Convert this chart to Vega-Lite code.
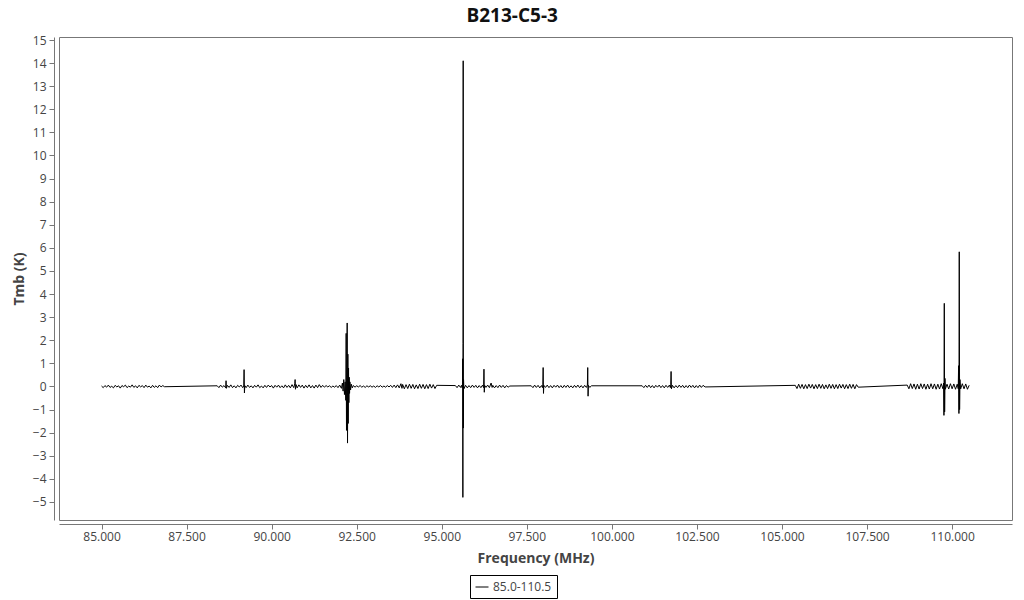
{
 "$schema": "https://vega.github.io/schema/vega-lite/v6.json",
 "width": 953,
 "height": 483,
 "autosize": {"type": "none"},
 "padding": {"left": 59, "top": 37, "right": 12, "bottom": 80},
 "background": "white",
 "title": {"text": "B213-C5-3", "font": "Open Sans", "fontSize": 19, "fontWeight": "bold", "color": "#111111", "anchor": "middle", "frame": "bounds", "offset": 8},
 "config": {
  "view": {"stroke": "#777777", "strokeWidth": 1},
  "axis": {"grid": false, "domainColor": "#777777", "tickColor": "#777777", "tickSize": 5, "labelFont": "Open Sans", "labelFontSize": 12, "labelColor": "#444444", "titleFont": "Open Sans", "titleFontSize": 14, "titleFontWeight": "bold", "titleColor": "#444444"}
 },
 "data": {"values": [
  {"f": 85.00, "t": 0.02}, {"f": 85.05, "t": -0.05}, {"f": 85.10, "t": 0.04}, {"f": 85.15, "t": -0.03}, {"f": 85.20, "t": 0.06}, {"f": 85.25, "t": -0.04}, {"f": 85.30, "t": 0.01}, {"f": 85.35, "t": -0.06}, {"f": 85.40, "t": 0.05}, {"f": 85.45, "t": -0.02}, {"f": 85.50, "t": 0.03}, {"f": 85.55, "t": -0.07}, {"f": 85.60, "t": 0.04}, {"f": 85.65, "t": -0.01}, {"f": 85.70, "t": 0.06}, {"f": 85.75, "t": -0.05}, {"f": 85.80, "t": 0.02}, {"f": 85.85, "t": -0.03}, {"f": 85.90, "t": 0.07}, {"f": 85.95, "t": -0.04}, {"f": 86.00, "t": 0.03}, {"f": 86.05, "t": -0.06}, {"f": 86.10, "t": 0.05}, {"f": 86.15, "t": -0.02}, {"f": 86.20, "t": 0.04}, {"f": 86.25, "t": -0.05}, {"f": 86.30, "t": 0.06}, {"f": 86.35, "t": -0.03}, {"f": 86.40, "t": 0.02}, {"f": 86.45, "t": -0.06}, {"f": 86.50, "t": 0.05}, {"f": 86.55, "t": -0.04}, {"f": 86.60, "t": 0.03}, {"f": 86.65, "t": -0.05}, {"f": 86.70, "t": 0.06}, {"f": 86.75, "t": -0.02}, {"f": 86.80, "t": 0.04}, {"f": 86.85, "t": -0.01},
  {"f": 88.40, "t": 0.03}, {"f": 88.45, "t": -0.05}, {"f": 88.50, "t": 0.06}, {"f": 88.55, "t": -0.03}, {"f": 88.60, "t": 0.04}, {"f": 88.65, "t": -0.06}, {"f": 88.66, "t": 0.25}, {"f": 88.67, "t": -0.08}, {"f": 88.70, "t": 0.05}, {"f": 88.75, "t": -0.04}, {"f": 88.80, "t": 0.07}, {"f": 88.85, "t": -0.05}, {"f": 88.90, "t": 0.03}, {"f": 88.95, "t": -0.06}, {"f": 89.00, "t": 0.05}, {"f": 89.05, "t": -0.02}, {"f": 89.10, "t": 0.06}, {"f": 89.15, "t": -0.05}, {"f": 89.18, "t": 0.02}, {"f": 89.19, "t": 0.73}, {"f": 89.20, "t": -0.28}, {"f": 89.21, "t": 0.04}, {"f": 89.25, "t": -0.05}, {"f": 89.30, "t": 0.06}, {"f": 89.35, "t": -0.04}, {"f": 89.40, "t": 0.03}, {"f": 89.45, "t": -0.06}, {"f": 89.50, "t": 0.05}, {"f": 89.55, "t": -0.03}, {"f": 89.60, "t": 0.07}, {"f": 89.65, "t": -0.05}, {"f": 89.70, "t": 0.02}, {"f": 89.75, "t": -0.06}, {"f": 89.80, "t": 0.05}, {"f": 89.85, "t": -0.04}, {"f": 89.90, "t": 0.06}, {"f": 89.95, "t": -0.02}, {"f": 90.00, "t": 0.04}, {"f": 90.05, "t": -0.07}, {"f": 90.10, "t": 0.05}, {"f": 90.15, "t": -0.03}, {"f": 90.20, "t": 0.06}, {"f": 90.25, "t": -0.05}, {"f": 90.30, "t": 0.03}, {"f": 90.35, "t": -0.06}, {"f": 90.40, "t": 0.07}, {"f": 90.45, "t": -0.04}, {"f": 90.50, "t": 0.05}, {"f": 90.55, "t": -0.06}, {"f": 90.60, "t": 0.08}, {"f": 90.65, "t": -0.05}, {"f": 90.68, "t": 0.12}, {"f": 90.69, "t": 0.30}, {"f": 90.70, "t": -0.12}, {"f": 90.72, "t": 0.08}, {"f": 90.75, "t": -0.06}, {"f": 90.80, "t": 0.07}, {"f": 90.85, "t": -0.04}, {"f": 90.90, "t": 0.06}, {"f": 90.95, "t": -0.07}, {"f": 91.00, "t": 0.05}, {"f": 91.05, "t": -0.05}, {"f": 91.10, "t": 0.07}, {"f": 91.15, "t": -0.06}, {"f": 91.20, "t": 0.04}, {"f": 91.25, "t": -0.07}, {"f": 91.30, "t": 0.06}, {"f": 91.35, "t": -0.05}, {"f": 91.40, "t": 0.08}, {"f": 91.45, "t": -0.04}, {"f": 91.50, "t": 0.05}, {"f": 91.55, "t": -0.03}, {"f": 91.60, "t": 0.04}, {"f": 91.65, "t": -0.02}, {"f": 91.70, "t": 0.03}, {"f": 91.75, "t": -0.04}, {"f": 91.80, "t": 0.02}, {"f": 91.85, "t": -0.03}, {"f": 91.90, "t": 0.04}, {"f": 91.95, "t": -0.05}, {"f": 92.00, "t": 0.06}, {"f": 92.05, "t": -0.08}, {"f": 92.08, "t": 0.15}, {"f": 92.10, "t": -0.2}, {"f": 92.12, "t": 0.3}, {"f": 92.14, "t": -0.35}, {"f": 92.16, "t": 0.2}, {"f": 92.18, "t": -0.6}, {"f": 92.19, "t": 2.3}, {"f": 92.20, "t": -1.9}, {"f": 92.21, "t": 0.5}, {"f": 92.22, "t": 2.75}, {"f": 92.23, "t": -2.45}, {"f": 92.24, "t": 1.4}, {"f": 92.25, "t": -1.6}, {"f": 92.26, "t": 0.8}, {"f": 92.27, "t": -0.7}, {"f": 92.28, "t": 0.4}, {"f": 92.29, "t": -0.3}, {"f": 92.30, "t": 0.2}, {"f": 92.32, "t": -0.15}, {"f": 92.34, "t": 0.1}, {"f": 92.37, "t": -0.06}, {"f": 92.40, "t": 0.04}, {"f": 92.45, "t": -0.03}, {"f": 92.50, "t": 0.03}, {"f": 92.55, "t": -0.02}, {"f": 92.60, "t": 0.04}, {"f": 92.65, "t": -0.03}, {"f": 92.70, "t": 0.02}, {"f": 92.75, "t": -0.04}, {"f": 92.80, "t": 0.03}, {"f": 92.85, "t": -0.02}, {"f": 92.90, "t": 0.03}, {"f": 92.95, "t": -0.03}, {"f": 93.00, "t": 0.02}, {"f": 93.05, "t": -0.04}, {"f": 93.10, "t": 0.03}, {"f": 93.15, "t": -0.02}, {"f": 93.20, "t": 0.04}, {"f": 93.25, "t": -0.03}, {"f": 93.30, "t": 0.02}, {"f": 93.35, "t": -0.03}, {"f": 93.40, "t": 0.04}, {"f": 93.45, "t": -0.02}, {"f": 93.50, "t": 0.05}, {"f": 93.55, "t": -0.04}, {"f": 93.60, "t": 0.06}, {"f": 93.65, "t": -0.05}, {"f": 93.70, "t": 0.07}, {"f": 93.75, "t": -0.06}, {"f": 93.80, "t": 0.12}, {"f": 93.83, "t": -0.08}, {"f": 93.85, "t": 0.09}, {"f": 93.90, "t": -0.1}, {"f": 93.95, "t": 0.08}, {"f": 94.00, "t": -0.09}, {"f": 94.05, "t": 0.1}, {"f": 94.10, "t": -0.08}, {"f": 94.15, "t": 0.09}, {"f": 94.20, "t": -0.1}, {"f": 94.25, "t": 0.07}, {"f": 94.30, "t": -0.09}, {"f": 94.35, "t": 0.1}, {"f": 94.40, "t": -0.08}, {"f": 94.45, "t": 0.09}, {"f": 94.50, "t": -0.1}, {"f": 94.55, "t": 0.08}, {"f": 94.60, "t": -0.09}, {"f": 94.65, "t": 0.1}, {"f": 94.70, "t": -0.07}, {"f": 94.75, "t": 0.08}, {"f": 94.80, "t": -0.09}, {"f": 94.85, "t": 0.05},
  {"f": 95.40, "t": 0.04}, {"f": 95.45, "t": -0.05}, {"f": 95.50, "t": 0.06}, {"f": 95.55, "t": -0.04}, {"f": 95.58, "t": 0.05}, {"f": 95.60, "t": -0.06}, {"f": 95.61, "t": 0.1}, {"f": 95.615, "t": 1.2}, {"f": 95.62, "t": -4.8}, {"f": 95.625, "t": 1.86}, {"f": 95.63, "t": 14.1}, {"f": 95.635, "t": -1.8}, {"f": 95.64, "t": 0.3}, {"f": 95.65, "t": -0.1}, {"f": 95.70, "t": 0.05}, {"f": 95.75, "t": -0.06}, {"f": 95.80, "t": 0.04}, {"f": 95.85, "t": -0.05}, {"f": 95.90, "t": 0.06}, {"f": 95.95, "t": -0.04}, {"f": 96.00, "t": 0.05}, {"f": 96.05, "t": -0.06}, {"f": 96.10, "t": 0.04}, {"f": 96.15, "t": -0.05}, {"f": 96.20, "t": 0.06}, {"f": 96.23, "t": -0.05}, {"f": 96.24, "t": 0.75}, {"f": 96.25, "t": -0.25}, {"f": 96.26, "t": 0.05}, {"f": 96.30, "t": -0.04}, {"f": 96.35, "t": 0.06}, {"f": 96.40, "t": -0.05}, {"f": 96.45, "t": 0.15}, {"f": 96.48, "t": -0.04}, {"f": 96.50, "t": 0.05}, {"f": 96.55, "t": -0.06}, {"f": 96.60, "t": 0.04}, {"f": 96.65, "t": -0.05}, {"f": 96.70, "t": 0.06}, {"f": 96.75, "t": -0.04}, {"f": 96.80, "t": 0.05}, {"f": 96.85, "t": -0.06}, {"f": 96.90, "t": 0.04}, {"f": 96.95, "t": -0.03}, {"f": 97.00, "t": 0.02},
  {"f": 97.63, "t": 0.03}, {"f": 97.68, "t": -0.05}, {"f": 97.73, "t": 0.06}, {"f": 97.78, "t": -0.04}, {"f": 97.83, "t": 0.05}, {"f": 97.88, "t": -0.06}, {"f": 97.93, "t": 0.04}, {"f": 97.96, "t": -0.05}, {"f": 97.97, "t": 0.1}, {"f": 97.98, "t": 0.82}, {"f": 97.99, "t": -0.3}, {"f": 98.00, "t": 0.05}, {"f": 98.05, "t": -0.04}, {"f": 98.10, "t": 0.06}, {"f": 98.15, "t": -0.05}, {"f": 98.20, "t": 0.04}, {"f": 98.25, "t": -0.06}, {"f": 98.30, "t": 0.05}, {"f": 98.35, "t": -0.03}, {"f": 98.40, "t": 0.06}, {"f": 98.45, "t": -0.05}, {"f": 98.50, "t": 0.04}, {"f": 98.55, "t": -0.06}, {"f": 98.60, "t": 0.05}, {"f": 98.65, "t": -0.04}, {"f": 98.70, "t": 0.06}, {"f": 98.75, "t": -0.05}, {"f": 98.80, "t": 0.03}, {"f": 98.85, "t": -0.06}, {"f": 98.90, "t": 0.05}, {"f": 98.95, "t": -0.04}, {"f": 99.00, "t": 0.06}, {"f": 99.05, "t": -0.05}, {"f": 99.10, "t": 0.04}, {"f": 99.15, "t": -0.06}, {"f": 99.20, "t": 0.05}, {"f": 99.25, "t": -0.04}, {"f": 99.28, "t": 0.06}, {"f": 99.29, "t": 0.82}, {"f": 99.30, "t": -0.42}, {"f": 99.31, "t": 0.05}, {"f": 99.35, "t": -0.04}, {"f": 99.40, "t": 0.03},
  {"f": 100.89, "t": 0.03}, {"f": 100.94, "t": -0.05}, {"f": 100.99, "t": 0.05}, {"f": 101.04, "t": -0.04}, {"f": 101.09, "t": 0.06}, {"f": 101.14, "t": -0.05}, {"f": 101.19, "t": 0.04}, {"f": 101.24, "t": -0.06}, {"f": 101.29, "t": 0.05}, {"f": 101.34, "t": -0.03}, {"f": 101.39, "t": 0.06}, {"f": 101.44, "t": -0.05}, {"f": 101.49, "t": 0.04}, {"f": 101.54, "t": -0.06}, {"f": 101.59, "t": 0.05}, {"f": 101.64, "t": -0.04}, {"f": 101.69, "t": 0.06}, {"f": 101.72, "t": -0.05}, {"f": 101.73, "t": 0.1}, {"f": 101.74, "t": 0.65}, {"f": 101.75, "t": -0.1}, {"f": 101.78, "t": 0.05}, {"f": 101.83, "t": -0.06}, {"f": 101.88, "t": 0.04}, {"f": 101.93, "t": -0.05}, {"f": 101.98, "t": 0.06}, {"f": 102.03, "t": -0.04}, {"f": 102.08, "t": 0.05}, {"f": 102.13, "t": -0.06}, {"f": 102.18, "t": 0.04}, {"f": 102.23, "t": -0.05}, {"f": 102.28, "t": 0.06}, {"f": 102.33, "t": -0.04}, {"f": 102.38, "t": 0.05}, {"f": 102.43, "t": -0.06}, {"f": 102.48, "t": 0.04}, {"f": 102.53, "t": -0.05}, {"f": 102.58, "t": 0.06}, {"f": 102.63, "t": -0.04}, {"f": 102.68, "t": 0.05}, {"f": 102.74, "t": -0.02},
  {"f": 105.39, "t": 0.05}, {"f": 105.44, "t": -0.09}, {"f": 105.49, "t": 0.1}, {"f": 105.54, "t": -0.08}, {"f": 105.59, "t": 0.09}, {"f": 105.64, "t": -0.1}, {"f": 105.69, "t": 0.08}, {"f": 105.74, "t": -0.09}, {"f": 105.79, "t": 0.1}, {"f": 105.84, "t": -0.07}, {"f": 105.89, "t": 0.09}, {"f": 105.94, "t": -0.1}, {"f": 105.99, "t": 0.08}, {"f": 106.04, "t": -0.09}, {"f": 106.09, "t": 0.1}, {"f": 106.14, "t": -0.08}, {"f": 106.19, "t": 0.09}, {"f": 106.24, "t": -0.1}, {"f": 106.29, "t": 0.07}, {"f": 106.34, "t": -0.09}, {"f": 106.39, "t": 0.1}, {"f": 106.44, "t": -0.08}, {"f": 106.49, "t": 0.09}, {"f": 106.54, "t": -0.1}, {"f": 106.59, "t": 0.08}, {"f": 106.64, "t": -0.09}, {"f": 106.69, "t": 0.1}, {"f": 106.74, "t": -0.07}, {"f": 106.79, "t": 0.09}, {"f": 106.84, "t": -0.1}, {"f": 106.89, "t": 0.08}, {"f": 106.94, "t": -0.09}, {"f": 106.99, "t": 0.1}, {"f": 107.04, "t": -0.08}, {"f": 107.09, "t": 0.09}, {"f": 107.14, "t": -0.1}, {"f": 107.19, "t": 0.08}, {"f": 107.24, "t": -0.03},
  {"f": 108.68, "t": 0.06}, {"f": 108.73, "t": -0.1}, {"f": 108.78, "t": 0.12}, {"f": 108.83, "t": -0.09}, {"f": 108.88, "t": 0.11}, {"f": 108.93, "t": -0.12}, {"f": 108.98, "t": 0.1}, {"f": 109.03, "t": -0.11}, {"f": 109.08, "t": 0.12}, {"f": 109.13, "t": -0.09}, {"f": 109.18, "t": 0.11}, {"f": 109.23, "t": -0.12}, {"f": 109.28, "t": 0.1}, {"f": 109.33, "t": -0.11}, {"f": 109.38, "t": 0.12}, {"f": 109.43, "t": -0.1}, {"f": 109.48, "t": 0.11}, {"f": 109.53, "t": -0.12}, {"f": 109.58, "t": 0.1}, {"f": 109.63, "t": -0.11}, {"f": 109.68, "t": 0.12}, {"f": 109.73, "t": -0.1}, {"f": 109.75, "t": 0.15}, {"f": 109.76, "t": -1.25}, {"f": 109.77, "t": 3.6}, {"f": 109.78, "t": -1.1}, {"f": 109.79, "t": 0.35}, {"f": 109.80, "t": -0.12}, {"f": 109.85, "t": 0.1}, {"f": 109.90, "t": -0.11}, {"f": 109.95, "t": 0.12}, {"f": 110.00, "t": -0.1}, {"f": 110.05, "t": 0.11}, {"f": 110.10, "t": -0.12}, {"f": 110.15, "t": 0.1}, {"f": 110.18, "t": -0.1}, {"f": 110.19, "t": 0.9}, {"f": 110.20, "t": -1.17}, {"f": 110.21, "t": 5.83}, {"f": 110.22, "t": -1.0}, {"f": 110.23, "t": 0.3}, {"f": 110.25, "t": -0.11}, {"f": 110.30, "t": 0.12}, {"f": 110.35, "t": -0.1}, {"f": 110.40, "t": 0.11}, {"f": 110.45, "t": -0.12}, {"f": 110.50, "t": 0.05}
 ]},
 "mark": {"type": "line", "strokeWidth": 1, "interpolate": "linear"},
 "encoding": {
  "x": {"field": "f", "type": "quantitative", "scale": {"domain": [83.75, 111.76], "nice": false, "zero": false},
        "axis": {"title": "Frequency (MHz)", "values": [85, 87.5, 90, 92.5, 95, 97.5, 100, 102.5, 105, 107.5, 110], "format": ".3f", "offset": 4, "labelPadding": 2, "titlePadding": 9, "labelFlush": false}},
  "y": {"field": "t", "type": "quantitative", "scale": {"domain": [-5.78, 15.13], "nice": false, "zero": false},
        "axis": {"title": "Tmb (K)", "values": [-5, -4, -3, -2, -1, 0, 1, 2, 3, 4, 5, 6, 7, 8, 9, 10, 11, 12, 13, 14, 15], "format": "d", "offset": 5, "labelPadding": 3, "titlePadding": 6, "labelFlush": false}},
  "color": {"datum": "85.0-110.5", "scale": {"range": ["#000000"]},
            "legend": {"title": null, "orient": "none", "legendX": 411, "legendY": 538, "symbolType": "stroke", "symbolSize": 169, "symbolStrokeWidth": 1, "symbolStrokeColor": "#555555", "labelFont": "Open Sans", "labelFontSize": 12, "labelColor": "#444444", "labelOffset": 4, "strokeColor": "#000000", "padding": 5, "fillColor": "white"}}
 }
}
